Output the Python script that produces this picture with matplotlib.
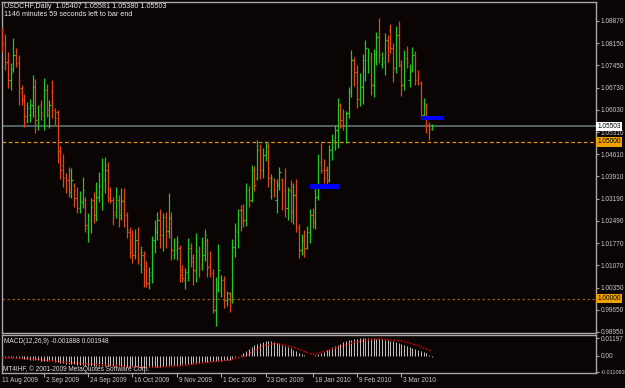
import matplotlib
matplotlib.use("Agg")
import matplotlib.pyplot as plt
import matplotlib.transforms as mtransforms
import numpy as np

# ---------------- data ----------------
opens = [1.0857, 1.0816, 1.0755, 1.0698, 1.0733, 1.0778, 1.0753, 1.0672, 1.0634, 1.0567,
         1.0586, 1.0618, 1.0676, 1.0554, 1.0618, 1.0586, 1.0666, 1.0586, 1.0660, 1.0602,
         1.0596, 1.0471, 1.0427, 1.0385, 1.0379, 1.0340, 1.0363, 1.0321, 1.0290, 1.0309,
         1.0315, 1.0226, 1.0251, 1.0315, 1.0267, 1.0325, 1.0331, 1.0379, 1.0411, 1.0347,
         1.0315, 1.0277, 1.0315, 1.0267, 1.0315, 1.0267, 1.0213, 1.0187, 1.0140, 1.0187,
         1.0108, 1.0140, 1.0092, 1.0050, 1.0076, 1.0187, 1.0213, 1.0251, 1.0203, 1.0261,
         1.0216, 1.0258, 1.0140, 1.0156, 1.0162, 1.0092, 1.0060, 1.0085, 1.0162, 1.0130,
         1.0092, 1.0152, 1.0108, 1.0140, 1.0187, 1.0108, 1.0082, 0.9964, 1.0028, 1.0028,
         1.0060, 0.9996, 1.0018, 0.9996, 1.0165, 1.0213, 1.0283, 1.0283, 1.0251, 1.0347,
         1.0315, 1.0411, 1.0385, 1.0475, 1.0411, 1.0459, 1.0487, 1.0347, 1.0379, 1.0315,
         1.0363, 1.0379, 1.0347, 1.0290, 1.0347, 1.0277, 1.0331, 1.0226, 1.0156, 1.0197,
         1.0162, 1.0213, 1.0267, 1.0245, 1.0325, 1.0436, 1.0411, 1.0411, 1.0379, 1.0475,
         1.0506, 1.0538, 1.0618, 1.0570, 1.0554, 1.0593, 1.0660, 1.0762, 1.0723, 1.0637,
         1.0676, 1.0730, 1.0762, 1.0771, 1.0682, 1.0781, 1.0835, 1.0749, 1.0755, 1.0825,
         1.0857, 1.0800, 1.0736, 1.0841, 1.0746, 1.0682, 1.0768, 1.0698, 1.0730, 1.0778,
         1.0704, 1.0688, 1.0586, 1.0618, 1.0554, 1.05407]
highs = [1.0866, 1.0845, 1.0788, 1.0751, 1.0831, 1.0799, 1.0778, 1.0682, 1.0653, 1.0629,
         1.0637, 1.0714, 1.0701, 1.0618, 1.0634, 1.0703, 1.0684, 1.0634, 1.0698, 1.0608,
         1.0602, 1.0487, 1.0462, 1.0401, 1.0420, 1.0417, 1.0369, 1.0356, 1.0344, 1.0388,
         1.0325, 1.0274, 1.0321, 1.0340, 1.0372, 1.0404, 1.0449, 1.0452, 1.0436, 1.0356,
         1.0325, 1.0356, 1.0331, 1.0353, 1.0353, 1.0277, 1.0229, 1.0219, 1.0222, 1.0229,
         1.0168, 1.0152, 1.0120, 1.0101, 1.0200, 1.0251, 1.0277, 1.0286, 1.0274, 1.0277,
         1.0337, 1.0277, 1.0194, 1.0200, 1.0171, 1.0108, 1.0098, 1.0194, 1.0178, 1.0143,
         1.0210, 1.0168, 1.0197, 1.0222, 1.0194, 1.0152, 1.0095, 1.0069, 1.0175, 1.0076,
         1.0073, 1.0025, 1.0022, 1.0191, 1.0242, 1.0286, 1.0299, 1.0302, 1.0369, 1.0360,
         1.0427, 1.0424, 1.0506, 1.0494, 1.0481, 1.0500, 1.0497, 1.0398, 1.0385, 1.0382,
         1.0420, 1.0385, 1.0417, 1.0356, 1.0379, 1.0369, 1.0382, 1.0238, 1.0206, 1.0219,
         1.0232, 1.0286, 1.0290, 1.0353, 1.0462, 1.0497, 1.0446, 1.0424, 1.0490, 1.0526,
         1.0554, 1.0640, 1.0624, 1.0605, 1.0599, 1.0676, 1.0794, 1.0771, 1.0746, 1.0720,
         1.0781, 1.0825, 1.0800, 1.0787, 1.0797, 1.0851, 1.0896, 1.0787, 1.0848, 1.0841,
         1.0876, 1.0816, 1.0870, 1.0886, 1.0762, 1.0794, 1.0806, 1.0749, 1.0803, 1.0790,
         1.0730, 1.0695, 1.0640, 1.0624, 1.0564, 1.05581]
lows = [1.0788, 1.0730, 1.0671, 1.0666, 1.0724, 1.0740, 1.0618, 1.0618, 1.0549, 1.0560,
        1.0564, 1.0581, 1.0528, 1.0538, 1.0570, 1.0538, 1.0581, 1.0544, 1.0576, 1.0554,
        1.0433, 1.0382, 1.0356, 1.0337, 1.0325, 1.0321, 1.0293, 1.0274, 1.0274, 1.0290,
        1.0213, 1.0181, 1.0210, 1.0242, 1.0248, 1.0309, 1.0283, 1.0337, 1.0309, 1.0305,
        1.0235, 1.0258, 1.0229, 1.0251, 1.0229, 1.0194, 1.0130, 1.0114, 1.0127, 1.0111,
        1.0082, 1.0038, 1.0038, 1.0031, 1.0050, 1.0146, 1.0187, 1.0162, 1.0152, 1.0162,
        1.0194, 1.0124, 1.0127, 1.0124, 1.0053, 1.0053, 1.0031, 1.0057, 1.0101, 1.0044,
        1.0053, 1.0069, 1.0092, 1.0120, 1.0069, 1.0069, 0.9955, 0.9913, 1.0022, 1.0006,
        0.9971, 0.9977, 0.9958, 0.9986, 1.0133, 1.0162, 1.0216, 1.0229, 1.0232, 1.0293,
        1.0309, 1.0344, 1.0379, 1.0382, 1.0385, 1.0439, 1.0356, 1.0318, 1.0325, 1.0274,
        1.0347, 1.0283, 1.0261, 1.0251, 1.0245, 1.0238, 1.0213, 1.0130, 1.0140, 1.0133,
        1.0159, 1.0178, 1.0226, 1.0222, 1.0315, 1.0401, 1.0369, 1.0363, 1.0372, 1.0443,
        1.0475, 1.0481, 1.0545, 1.0538, 1.0497, 1.0577, 1.0644, 1.0679, 1.0609, 1.0615,
        1.0621, 1.0695, 1.0720, 1.0650, 1.0644, 1.0746, 1.0752, 1.0736, 1.0714, 1.0755,
        1.0784, 1.0691, 1.0720, 1.0739, 1.0647, 1.0666, 1.0736, 1.0676, 1.0723, 1.0682,
        1.0682, 1.0573, 1.0577, 1.0529, 1.0506, 1.05380]
closes = [1.0816, 1.0755, 1.0698, 1.0720, 1.0778, 1.0753, 1.0660, 1.0634, 1.0583, 1.0609,
          1.0618, 1.0676, 1.0570, 1.0586, 1.0596, 1.0653, 1.0602, 1.0618, 1.0624, 1.0577,
          1.0471, 1.0411, 1.0385, 1.0360, 1.0347, 1.0379, 1.0321, 1.0290, 1.0315, 1.0347,
          1.0235, 1.0264, 1.0293, 1.0267, 1.0325, 1.0360, 1.0411, 1.0427, 1.0321, 1.0315,
          1.0267, 1.0325, 1.0258, 1.0312, 1.0267, 1.0219, 1.0149, 1.0140, 1.0187, 1.0124,
          1.0149, 1.0057, 1.0050, 1.0085, 1.0187, 1.0219, 1.0251, 1.0203, 1.0261, 1.0216,
          1.0258, 1.0156, 1.0171, 1.0181, 1.0076, 1.0066, 1.0085, 1.0171, 1.0117, 1.0092,
          1.0152, 1.0098, 1.0181, 1.0203, 1.0101, 1.0082, 0.9964, 1.0028, 1.0092, 1.0060,
          0.9996, 1.0018, 0.9980, 1.0165, 1.0219, 1.0267, 1.0245, 1.0251, 1.0347, 1.0315,
          1.0411, 1.0363, 1.0475, 1.0411, 1.0459, 1.0487, 1.0385, 1.0385, 1.0347, 1.0363,
          1.0404, 1.0331, 1.0290, 1.0347, 1.0277, 1.0331, 1.0229, 1.0156, 1.0187, 1.0162,
          1.0213, 1.0267, 1.0245, 1.0325, 1.0436, 1.0411, 1.0385, 1.0379, 1.0475, 1.0506,
          1.0538, 1.0618, 1.0570, 1.0554, 1.0593, 1.0660, 1.0762, 1.0723, 1.0637, 1.0676,
          1.0762, 1.0800, 1.0784, 1.0682, 1.0781, 1.0835, 1.0778, 1.0768, 1.0825, 1.0778,
          1.0800, 1.0736, 1.0841, 1.0746, 1.0682, 1.0768, 1.0755, 1.0730, 1.0778, 1.0698,
          1.0688, 1.0586, 1.0618, 1.0554, 1.05407, 1.05503]

macd_main = [-0.0006, -0.0008, -0.0010, -0.0011, -0.0012, -0.0013, -0.0015,
             -0.0018, -0.0021, -0.0024, -0.0026, -0.0028, -0.0030, -0.0031, -0.0033, -0.0034, -0.0035, -0.0036,
             -0.0038, -0.0040, -0.0043, -0.0047, -0.0050, -0.0053, -0.0055, -0.0057, -0.0059, -0.0061, -0.0063, -0.0065,
             -0.0067, -0.0069, -0.0070, -0.0070, -0.0070, -0.0069, -0.0068, -0.0067, -0.0067, -0.0068, -0.0069, -0.0070,
             -0.0071, -0.0072, -0.0073, -0.0074, -0.0076, -0.0077,
             -0.0078, -0.0079, -0.0080, -0.0080, -0.0080, -0.0079, -0.0078, -0.0077, -0.0075, -0.0074, -0.0072, -0.0070,
             -0.0068, -0.0066, -0.0064, -0.0062, -0.0060, -0.0058, -0.0056, -0.0055, -0.0053, -0.0051, -0.0049, -0.0047,
             -0.0045, -0.0043, -0.0041, -0.0039, -0.0038, -0.0038, -0.0036, -0.0034, -0.0032, -0.0030, -0.0027, -0.0020,
             -0.0012, -0.0004,
             0.0006, 0.0018, 0.0032, 0.0045, 0.0058, 0.0070, 0.0080, 0.0088, 0.0094, 0.0098, 0.0099, 0.0097,
             0.0092, 0.0086, 0.0080, 0.0073, 0.0065, 0.0057, 0.0049, 0.0040, 0.0030, 0.0020, 0.0012, 0.0005,
             -0.0002, -0.0005, -0.0004, 0.0002,
             0.0011, 0.0020, 0.0028, 0.0036, 0.0046, 0.0056, 0.0064, 0.0073, 0.0082, 0.0090, 0.0097, 0.0103,
             0.0108, 0.0112, 0.0115, 0.0117, 0.0119, 0.0120, 0.01197, 0.0119, 0.0118, 0.0116, 0.0114,
             0.0111, 0.0108, 0.0105, 0.0101, 0.0097, 0.0092, 0.0087, 0.0081, 0.0073, 0.0066, 0.0059, 0.0052,
             0.0045, 0.0038, 0.0030, 0.0023, 0.0015, 0.0007, -0.0007]
signal_idx = [0, 11, 23, 35, 47, 56, 65, 74, 82, 88, 94, 99, 105, 112, 119, 127, 135, 144, 150, 155]
signal_val = [-0.0015, -0.0022, -0.0045, -0.0061, -0.0074, -0.0078, -0.0068, -0.0045, -0.0029, 0.0000,
              0.0068, 0.0084, 0.0057, 0.0007, 0.0045, 0.0090, 0.0115, 0.0101, 0.0068, 0.0030]

price_ticks = [1.08870, 1.08150, 1.07450, 1.06730, 1.06030, 1.05310, 1.04610, 1.03910,
               1.03190, 1.02490, 1.01770, 1.01070, 1.00350, 0.99650, 0.98950]
date_labels = ["11 Aug 2009", "2 Sep 2009", "24 Sep 2009", "16 Oct 2009", "9 Nov 2009",
               "1 Dec 2009", "23 Dec 2009", "18 Jan 2010", "9 Feb 2010", "3 Mar 2010"]
date_pos = [0, 15, 31, 47, 63, 79, 95, 112, 128, 144]

bid_price = 1.05503
level_high = 1.05000
level_low = 1.00000
zone_start = [111, 151]
zone_end = [121.4, 158.9]
zone_low = [1.0350, 1.0570]
zone_high = [1.0366, 1.0583]

macd_labels = ["0.01197", "0.00", "-0.011063"]
macd_label_vals = [0.01197, 0.0, -0.011063]

# ---------------- style ----------------
BG = "#0b0404"
FRAME = "#a8a8a8"
TXT = "#c8c8c8"
UP = "#20c820"
DOWN = "#e04818"
FONT = "Liberation Sans"
FS = 4.7
FS_HEAD = 5.2

W, H = 625, 388
fig = plt.figure(figsize=(W / 100, H / 100), dpi=100)
fig.patch.set_facecolor(BG)


def axes_px(x0, y0, x1, y1):
    return fig.add_axes([x0 / W, 1 - y1 / H, (x1 - x0) / W, (y1 - y0) / H])


ax = axes_px(2, 2, 596, 333)
ax2 = axes_px(2, 335, 596, 373)

n = len(closes)
idx = np.arange(n)
o = np.array(opens); h = np.array(highs); l = np.array(lows); c = np.array(closes)
cols = [UP if c[i] >= o[i] else DOWN for i in range(n)]

XMIN, XMAX = -0.07, 214.2
for a in (ax, ax2):
    a.set_facecolor(BG)
    a.set_xlim(XMIN, XMAX)
    for s in a.spines.values():
        s.set_color(FRAME)
        s.set_linewidth(1.0)

# level lines
ax.axhline(level_high, color="#e09010", lw=0.9, ls=(0, (3, 2)), zorder=1)
ax.axhline(level_low, color="#8a5c10", lw=0.9, ls=(0, (2, 2)), zorder=1)
ax.axhline(bid_price, color="#566c6c", lw=1.3, zorder=1)

# OHLC bars
ax.vlines(idx, l, h, colors=cols, lw=0.9, zorder=3)
ax.hlines(o, idx - 0.45, idx, colors=cols, lw=0.9, zorder=3)
ax.hlines(c, idx, idx + 0.45, colors=cols, lw=0.9, zorder=3)

# blue zones
for xs, xe, lo, hi in zip(zone_start, zone_end, zone_low, zone_high):
    ax.fill_between([xs, xe], lo, hi, color="#0000ff", lw=0, zorder=4)

ax.set_ylim(0.98907, 1.09466)
ax.set_xticks([])
ax.yaxis.tick_right()
ax.set_yticks(price_ticks)
ax.set_yticklabels([f"{v:.5f}" for v in price_ticks])
ax.tick_params(axis="y", colors=FRAME, labelcolor=TXT, length=2.5, width=0.8, pad=1.0,
               labelsize=FS)
for lab in ax.get_yticklabels():
    lab.set_fontfamily(FONT)


def box_label(price, text, fc):
    ax.text(1.002, price, text,
            transform=mtransforms.blended_transform_factory(ax.transAxes, ax.transData),
            ha="left", va="center", fontsize=FS, family=FONT, color="black", clip_on=False,
            zorder=10, bbox=dict(boxstyle="square,pad=0.18", fc=fc, ec="none"))


box_label(bid_price, f"{bid_price:.5f}", "white")
box_label(level_high, f"{level_high:.5f}", "#f0a000")
box_label(level_low, f"{level_low:.5f}", "#f0a000")

# MACD panel
ax2.vlines(idx, 0, macd_main, colors="#c4c4c4", lw=0.7, zorder=2)
ax2.plot(signal_idx, signal_val, color="#e00000", lw=1.0, ls=(0, (1.2, 1.2)), zorder=3)
ax2.set_ylim(-0.0117, 0.0140)
ax2.yaxis.tick_right()
ax2.set_yticks(macd_label_vals)
ax2.set_yticklabels(macd_labels)
ax2.tick_params(axis="y", colors=FRAME, labelcolor=TXT, length=2.5, width=0.8, pad=1.0,
                labelsize=FS)
for lab in ax2.get_yticklabels():
    lab.set_fontfamily(FONT)
ax2.get_yticklabels()[-1].set_fontsize(4.0)
ax2.set_xticks(date_pos[1:])
ax2.set_xticklabels([])
ax2.tick_params(axis="x", colors=FRAME, length=3, width=0.8)

trans = mtransforms.blended_transform_factory(ax2.transData, ax2.transAxes)
for i, (p, lab) in enumerate(zip(date_pos, date_labels)):
    ax2.text(p + (0 if i == 0 else 0.7), -0.2, lab, transform=trans, ha="left", va="center",
             fontsize=FS, family=FONT, color=TXT, clip_on=False)

ax2.text(0.004, 0.84, "MACD(12,26,9) -0.001888 0.001948", transform=ax2.transAxes,
         ha="left", va="center", fontsize=FS, family=FONT, color="#e0e0e0")
ax2.text(0.002, 0.09, "MT4IHF, \u00a9 2001-2009 MetaQuotes Software Corp.",
         transform=ax2.transAxes, ha="left", va="center", fontsize=FS, family=FONT,
         color="#e0e0e0", zorder=5)

# header text
fig.text(4 / W, 1 - 6.5 / H, "USDCHF,Daily  1.05407 1.05581 1.05380 1.05503",
         ha="left", va="center", fontsize=FS_HEAD, family=FONT, color="#e8e8e8")
fig.text(4 / W, 1 - 15 / H, "1146 minutes 59 seconds left to bar end",
         ha="left", va="center", fontsize=FS_HEAD, family=FONT, color="#e8e8e8")

fig.savefig("out.png", dpi=100, facecolor=BG)
